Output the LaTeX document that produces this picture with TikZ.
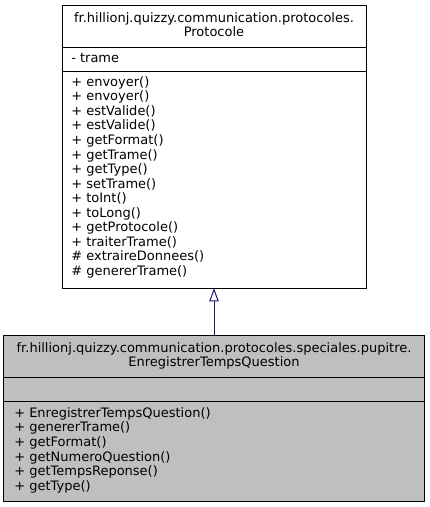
\documentclass[tikz,border=0pt]{standalone}
\usepackage{fontspec}
\setmainfont{DejaVu Sans}
\usetikzlibrary{arrows.meta}
\definecolor{edgeblue}{HTML}{191970}
\definecolor{curfill}{HTML}{BFBFBF}
\begin{document}
\begin{tikzpicture}[x=0.75pt,y=-0.75pt,
  txt/.style={inner sep=0pt, font=\fontsize{9.75pt}{10.9pt}\selectfont, text height=7pt, text depth=2pt},
  mline/.style={txt, anchor=west},
  tline/.style={txt, anchor=center},
  classbox/.style={draw=black, line width=0.75pt, inner sep=0pt, outer sep=0pt},
  sep/.style={draw=black, line width=0.75pt},
  inherit/.style={draw=edgeblue, line width=0.75pt, -{Triangle[open,length=10pt,width=7pt]}}]
\useasboundingbox (0,0) rectangle (429,507);
% base class box
\node[classbox, fill=white, minimum width=228pt, minimum height=212.25pt] (pbox) at (214,146.5) {};
\draw[sep] (62,47) -- (366,47);
\draw[sep] (62,71) -- (366,71);
\node[tline] (pt1) at (214,18.75) {fr.hillionj.quizzy.communication.protocoles.};
\node[tline] (pt2) at (214,33.25) {Protocole};
\node[mline] (pa1) at (71,59) {- trame};
\foreach \t [count=\i] in {+ envoyer(),+ envoyer(),+ estValide(),+ estValide(),+ getFormat(),+ getTrame(),+ getType(),+ setTrame(),+ toInt(),+ toLong(),+ getProtocole(),+ traiterTrame(),\# extraireDonnees(),\# genererTrame()}
  \node[mline] (pm\i) at (71,{83+14.54*(\i-1)}) {\t};
% current class box
\node[classbox, fill=curfill, minimum width=315.75pt, minimum height=124.5pt] (cbox) at (214,418) {};
\draw[sep] (3.5,377) -- (424.5,377);
\draw[sep] (3.5,401) -- (424.5,401);
\node[tline] (ct1) at (214,348.75) {fr.hillionj.quizzy.communication.protocoles.speciales.pupitre.};
\node[tline] (ct2) at (214,363.25) {EnregistrerTempsQuestion};
\foreach \t [count=\i] in {+ EnregistrerTempsQuestion(),+ genererTrame(),+ getFormat(),+ getNumeroQuestion(),+ getTempsReponse(),+ getType()}
  \node[mline] (cm\i) at (14,{414+14.6*(\i-1)}) {\t};
% inheritance
\draw[inherit] (cbox.north) -- (pbox.south);
\end{tikzpicture}
\end{document}
